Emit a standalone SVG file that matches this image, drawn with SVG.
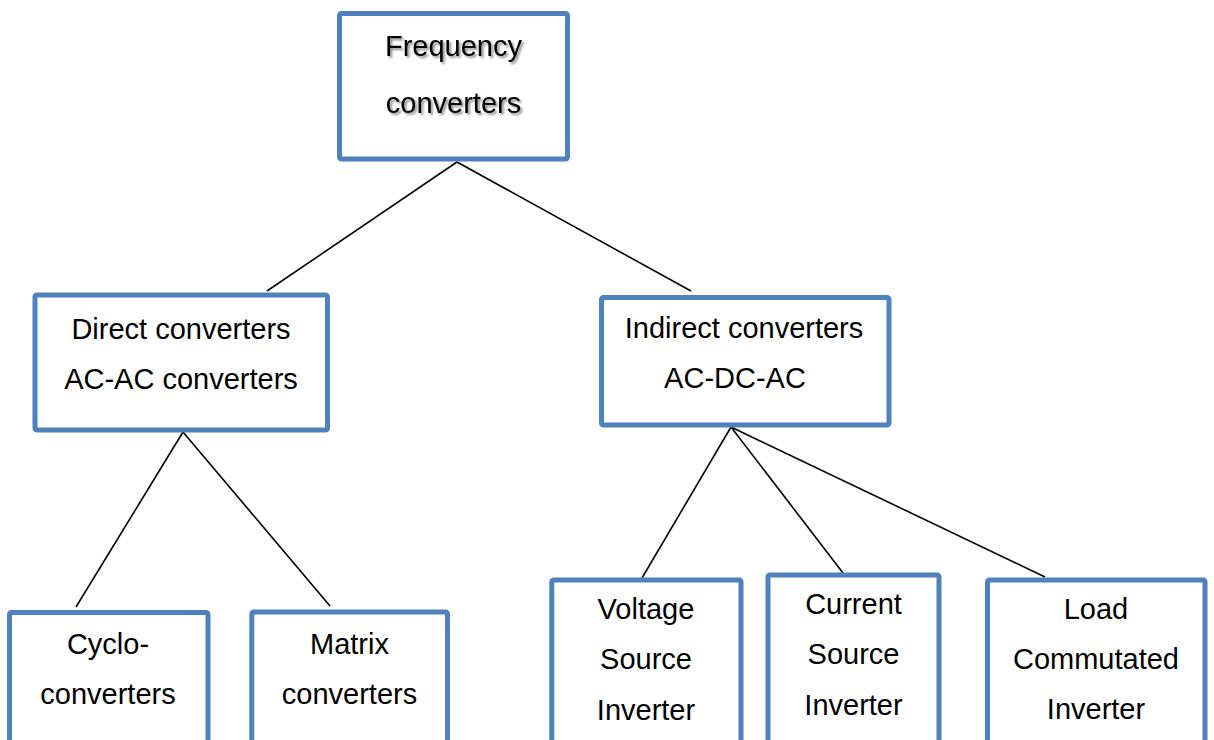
<svg xmlns="http://www.w3.org/2000/svg" width="1214" height="740" viewBox="0 0 1214 740">
  <defs>
    <filter id="shadow" x="-10%" y="-30%" width="120%" height="160%">
      <feGaussianBlur in="SourceAlpha" stdDeviation="0.9"/>
      <feOffset dx="1.6" dy="1.6" result="b"/>
      <feComponentTransfer in="b" result="s">
        <feFuncA type="linear" slope="0.45"/>
      </feComponentTransfer>
      <feMerge>
        <feMergeNode in="s"/>
        <feMergeNode in="SourceGraphic"/>
      </feMerge>
    </filter>
  </defs>
  <style>
    .box { fill: #ffffff; stroke: #4f81bd; stroke-width: 5; stroke-linejoin: round; }
    .lbl { font-family: "Liberation Sans", Arial, sans-serif; font-size: 29px; fill: #000000; text-anchor: middle; }
    .link { stroke: #000000; stroke-width: 1.6; fill: none; }
  </style>
  <rect width="1214" height="740" fill="#ffffff"/>

  <!-- connectors -->
  <g id="connectors">
    <line class="link" x1="457" y1="162" x2="267" y2="291"/>
    <line class="link" x1="457" y1="162" x2="691" y2="291"/>
    <line class="link" x1="183" y1="432" x2="76" y2="607"/>
    <line class="link" x1="183" y1="432" x2="330" y2="606"/>
    <line class="link" x1="731" y1="427" x2="642" y2="578"/>
    <line class="link" x1="731" y1="427" x2="843" y2="573"/>
    <line class="link" x1="731" y1="427" x2="1045" y2="577"/>
  </g>

  <!-- root -->
  <g id="frequency-converters">
    <rect class="box" x="339.5" y="13.5" width="228" height="145.5" rx="2"/>
    <g filter="url(#shadow)">
      <text class="lbl" x="453.5" y="56">Frequency</text>
      <text class="lbl" x="453.5" y="113">converters</text>
    </g>
  </g>

  <!-- second level -->
  <g id="direct-converters">
    <rect class="box" x="35" y="295" width="292.5" height="135" rx="2"/>
    <text class="lbl" x="181" y="339">Direct converters</text>
    <text class="lbl" x="181" y="389">AC-AC converters</text>
  </g>

  <g id="indirect-converters">
    <rect class="box" x="601.5" y="297.5" width="287.5" height="127.5" rx="2"/>
    <text class="lbl" x="744" y="338">Indirect converters</text>
    <text class="lbl" x="735" y="388">AC-DC-AC</text>
  </g>

  <!-- third level -->
  <g id="cyclo-converters">
    <rect class="box" x="9.5" y="612.5" width="198.5" height="140" rx="2"/>
    <text class="lbl" x="108" y="654">Cyclo-</text>
    <text class="lbl" x="108" y="704">converters</text>
  </g>

  <g id="matrix-converters">
    <rect class="box" x="251.8" y="612" width="195.7" height="140" rx="2"/>
    <text class="lbl" x="349.5" y="654">Matrix</text>
    <text class="lbl" x="349.5" y="704">converters</text>
  </g>

  <g id="voltage-source-inverter">
    <rect class="box" x="551.8" y="580" width="189.2" height="170" rx="2"/>
    <text class="lbl" x="646" y="619">Voltage</text>
    <text class="lbl" x="646" y="669">Source</text>
    <text class="lbl" x="646" y="720">Inverter</text>
  </g>

  <g id="current-source-inverter">
    <rect class="box" x="768" y="575" width="171" height="175" rx="2"/>
    <text class="lbl" x="853.5" y="614">Current</text>
    <text class="lbl" x="853.5" y="664">Source</text>
    <text class="lbl" x="853.5" y="715">Inverter</text>
  </g>

  <g id="load-commutated-inverter">
    <rect class="box" x="987.5" y="580" width="217.5" height="170" rx="2"/>
    <text class="lbl" x="1096" y="619">Load</text>
    <text class="lbl" x="1096" y="669">Commutated</text>
    <text class="lbl" x="1096" y="719">Inverter</text>
  </g>
</svg>
